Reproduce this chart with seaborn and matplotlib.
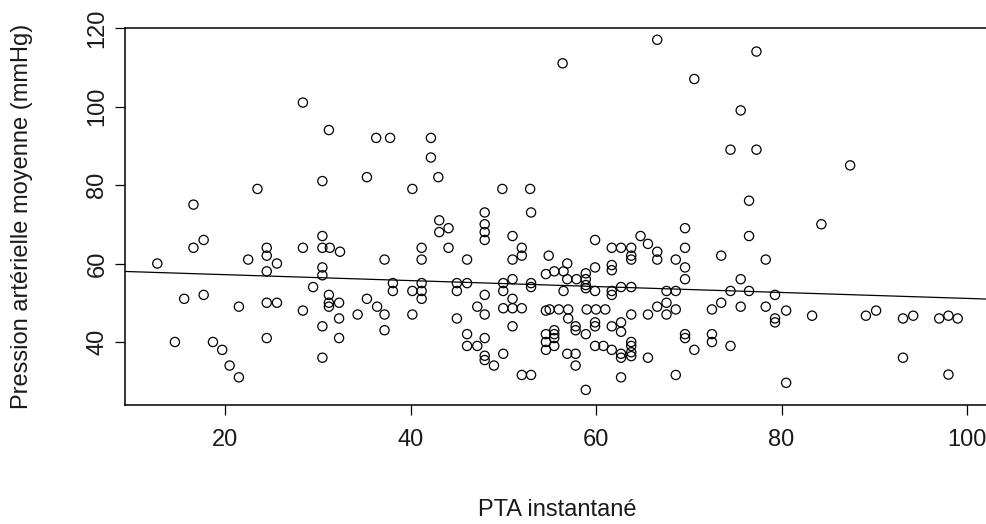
import numpy as np
import pandas as pd
import matplotlib
matplotlib.use("Agg")
import matplotlib.pyplot as plt
import seaborn as sns

# PTA instantané (x) and mean arterial pressure (y), one pair per patient
pta = [
    12.7, 14.6, 15.6, 16.6, 16.6, 17.7, 17.7, 18.7, 19.7, 20.5, 21.5, 21.5, 22.5, 23.5,
    24.5, 24.5, 24.5, 24.5, 24.5, 25.6, 25.6, 28.4, 28.4, 28.4, 29.5,
    30.5, 30.5, 30.5, 30.5, 30.5, 30.5, 30.5, 31.2, 31.3, 31.2, 31.2, 31.2,
    32.4, 32.3, 32.3, 32.3,
    34.3, 35.3, 35.3, 36.3, 36.4, 37.8, 37.2, 37.2, 37.2, 38.1, 38.1,
    40.2, 40.2, 40.2, 41.2, 41.2, 41.2, 41.2, 41.2, 42.2, 42.2, 43.0, 43.1, 44.1, 43.1, 44.1,
    45.0, 45.0, 45.0, 46.1, 46.1, 46.1, 46.1, 47.2, 47.2,
    48.0, 48.0, 48.0, 48.0, 48.0, 48.0, 48.0, 48.0, 48.0, 49.0,
    49.9, 51.0, 52.0, 52.0, 51.0, 53.0, 52.9, 53.0, 53.0, 51.0, 50.0, 50.0, 51.0,
    50.0, 51.0, 52.0, 51.0, 50.0,
    54.6, 55.5, 55.5, 54.6, 55.5, 54.6, 55.5, 54.6, 56.4,
    55.0, 56.0, 57.0, 57.0, 59.0, 60.0, 61.0,
    54.9, 56.9, 54.6, 55.5, 56.5, 58.9, 56.9, 57.9, 58.9, 56.5, 58.9, 58.9, 59.9, 59.9, 59.9,
    61.7, 62.7, 63.8, 63.8, 63.8, 61.7, 61.7, 61.7, 61.7, 62.7, 63.8,
    57.8, 57.8, 58.9, 59.9, 59.9, 61.7, 62.7, 62.7, 63.8,
    56.9, 57.8, 57.8, 59.9, 60.8, 61.7, 62.7, 62.7, 63.8, 63.8, 63.8, 63.8,
    52.0, 53.0, 58.9, 62.7,
    64.8, 65.6, 66.6, 66.6, 66.6, 69.6, 69.6, 68.6, 69.6, 69.6, 70.6, 73.5, 76.5, 78.3, 75.6,
    67.6, 68.6, 74.5, 76.5, 79.3, 67.6, 73.5, 66.6, 68.6, 72.5, 75.6, 78.3, 65.6, 67.6,
    79.3, 79.3, 65.6, 69.6, 69.6, 72.5, 72.5, 70.6, 74.5, 68.6,
    77.3, 75.6, 74.5, 77.3, 76.5,
    80.5, 83.3, 80.5, 84.3, 87.4, 89.1, 90.2, 93.1, 94.2, 93.1, 97.0, 98.0, 99.0, 98.0,
]
pam = [
    60, 40, 51, 64, 75, 66, 52, 40, 38, 34, 31, 49, 61, 79,
    64, 62, 58, 50, 41, 60, 50, 101, 64, 48, 54,
    81, 67, 64, 59, 57, 44, 36, 94, 64, 52, 50, 49,
    63, 50, 46, 41,
    47, 82, 51, 92, 49, 92, 61, 47, 43, 55, 53,
    79, 53, 47, 64, 61, 55, 53, 51, 92, 87, 82, 71, 69, 68, 64,
    55, 53, 46, 61, 55, 42, 39, 49, 39,
    73, 70, 68, 66, 52, 47, 41, 36.5, 35.4, 34,
    79, 67, 64, 62, 61, 73, 79, 55, 54, 56, 55, 53, 51,
    48.6, 48.6, 48.6, 44, 37,
    42, 43, 42, 40, 41, 38, 39, 48, 111,
    48.3, 48.3, 48.3, 46, 48.3, 48.3, 48.3,
    62, 60, 57.3, 58, 58, 57.5, 56, 56, 56, 53, 54.5, 53.7, 53, 59, 66,
    64, 64, 64, 62, 61, 59.6, 58.3, 53, 52, 54, 54,
    44, 43, 42, 45, 44, 44, 45, 42.6, 47,
    37, 37, 34, 39, 39, 38, 37, 36, 40, 39, 37.4, 36.4,
    31.6, 31.6, 27.8, 31,
    67, 65, 63, 61, 117, 69, 64, 61, 59, 56, 107, 62, 67, 61, 56,
    53, 53, 53, 53, 52, 50, 50, 49, 48.3, 48.3, 49, 49, 47, 47,
    46, 45, 36, 42, 41, 42, 40, 38, 39, 31.6,
    114, 99, 89, 89, 76,
    48, 46.7, 29.6, 70, 85, 46.7, 48, 46, 46.7, 36, 46, 46.7, 46, 31.7,
]

df = pd.DataFrame({"pta": pta, "pam": pam})

W, H = 987, 524
fig = plt.figure(figsize=(W / 100, H / 100), dpi=100)
plt.rcParams["font.family"] = ["Liberation Sans", "DejaVu Sans"]
FS = 17

# plot region in pixels: left 125, top 28, bottom 405, right runs off the canvas
left, top, bottom, right = 125, 28, 405, 992
ax = fig.add_axes([left / W, (H - bottom) / H, (right - left) / W, (bottom - top) / H])

sns.scatterplot(data=df, x="pta", y="pam", ax=ax, marker="o", s=44,
                facecolors="none", edgecolor="black", linewidth=0.9, legend=False)

# least-squares line across the whole plot region
slope, intercept = np.polyfit(df["pta"], df["pam"], 1)
ax.axline((0, intercept), slope=slope, color="black", linewidth=0.9)

x_per_px = 1 / 9.275
ax.set_xlim(20 - (225 - left) * x_per_px, 20 + (right - 225) * x_per_px)
y_per_px = 1 / 3.925
ax.set_ylim(40 - (bottom - 342) * y_per_px, 40 + (342 - top) * y_per_px)

ax.set_xticks([20, 40, 60, 80, 100])
ax.set_yticks([40, 60, 80, 100, 120])
ax.tick_params(axis="both", direction="out", length=7, width=0.9, labelsize=FS,
               color="black", labelcolor="#1a1a1a")
ax.tick_params(axis="x", pad=10)
ax.tick_params(axis="y", pad=5)
for lab in ax.get_yticklabels():
    lab.set_rotation(90)
    lab.set_va("center")

for sp in ax.spines.values():
    sp.set_color("black")
    sp.set_linewidth(1.1)

ax.set_xlabel("PTA instantané", fontsize=FS, color="#1a1a1a")
ax.set_ylabel("Pression artérielle moyenne (mmHg)", fontsize=FS, color="#1a1a1a")
ax.xaxis.set_label_coords(557 / W, (H - 510) / H, transform=fig.transFigure)
ax.xaxis.label.set_va("center")
ax.yaxis.set_label_coords(22 / W, (H - 216) / H, transform=fig.transFigure)
ax.yaxis.label.set_va("center")
ax.set_facecolor("white")
fig.patch.set_facecolor("white")

fig.savefig("out.png", dpi=100)
